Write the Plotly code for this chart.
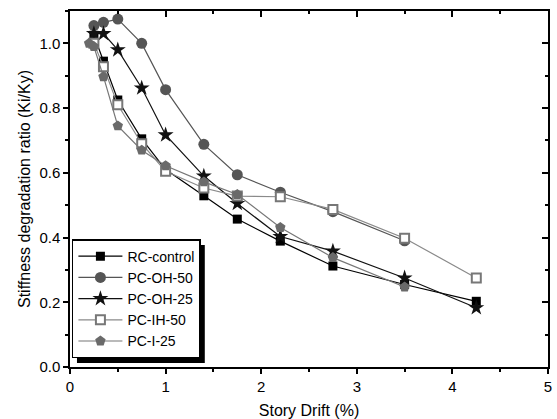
import plotly.graph_objects as go

# Data
drift_rc = [0.25, 0.35, 0.5, 0.75, 1.0, 1.4, 1.75, 2.2, 2.75, 3.5, 4.25]
rc_control = [1.025, 0.945, 0.825, 0.705, 0.61, 0.529, 0.457, 0.389, 0.312, 0.255, 0.203]

drift_oh50 = [0.25, 0.35, 0.5, 0.75, 1.0, 1.4, 1.75, 2.2, 2.75, 3.5]
pc_oh_50 = [1.055, 1.065, 1.075, 1.0, 0.857, 0.688, 0.594, 0.54, 0.48, 0.39]

drift_oh25 = [0.25, 0.35, 0.5, 0.75, 1.0, 1.4, 1.75, 2.2, 2.75, 3.5, 4.25]
pc_oh_25 = [1.03, 1.03, 0.98, 0.862, 0.717, 0.59, 0.505, 0.403, 0.358, 0.275, 0.183]

drift_ih50 = [0.25, 0.35, 0.5, 0.75, 1.0, 1.4, 1.75, 2.2, 2.75, 3.5, 4.25]
pc_ih_50 = [1.0, 0.928, 0.81, 0.69, 0.605, 0.553, 0.528, 0.526, 0.487, 0.398, 0.275]

drift_i25 = [0.2, 0.25, 0.35, 0.5, 0.75, 1.0, 1.4, 1.75, 2.2, 2.75, 3.5]
pc_i_25 = [1.0, 0.99, 0.897, 0.745, 0.67, 0.622, 0.572, 0.533, 0.431, 0.338, 0.247]

x_ticks = [0, 1, 2, 3, 4, 5]
y_ticks = [0.0, 0.2, 0.4, 0.6, 0.8, 1.0]
y_tick_labels = ["0.0", "0.2", "0.4", "0.6", "0.8", "1.0"]

FONT = "Arial, Liberation Sans, sans-serif"

fig = go.Figure()

series = [
    ("RC-control", drift_rc, rc_control, "square", "black", "black", "black", 9),
    ("PC-OH-50", drift_oh50, pc_oh_50, "circle", "#555555", "#555555", "#555555", 11),
    ("PC-OH-25", drift_oh25, pc_oh_25, "star", "#111111", "#111111", "#111111", 12),
    ("PC-IH-50", drift_ih50, pc_ih_50, "square", "#8a8a8a", "white", "#777777", 9),
    ("PC-I-25", drift_i25, pc_i_25, "pentagon", "#777777", "#6a6a6a", "#6a6a6a", 11),
]

for name, xs, ys, sym, lc, mfill, mline, msize in series:
    fig.add_trace(go.Scatter(
        x=xs, y=ys, name=name, mode="lines+markers",
        line=dict(color=lc, width=1.2),
        marker=dict(symbol=sym, size=msize, color=mfill,
                    line=dict(color=mline, width=2 if mfill == "white" else 0)),
    ))

# invisible trace to carry the mirrored top/right axes
fig.add_trace(go.Scatter(x=[None], y=[None], xaxis="x2", yaxis="y2",
                         showlegend=False, hoverinfo="skip"))

# legend shadow (offset right/down of the legend box)
fig.add_shape(type="rect", xref="paper", yref="paper",
              x0=0.0146, x1=0.282, y0=0.011, y1=0.343,
              fillcolor="black", line=dict(width=0), layer="above")

fig.update_layout(
    width=557, height=419,
    margin=dict(l=70, r=9, t=11, b=52, autoexpand=False),
    paper_bgcolor="white", plot_bgcolor="white",
    font=dict(family=FONT, color="black", size=15),
    showlegend=True,
    legend=dict(x=0.004, y=0.025, xanchor="left", yanchor="bottom",
                bgcolor="white", bordercolor="black", borderwidth=1.5,
                font=dict(size=14, family=FONT), tracegroupgap=0,
                itemwidth=44),
    xaxis=dict(range=[0, 5], tickvals=x_ticks, showgrid=False, zeroline=False,
               showline=True, linecolor="black", linewidth=1.5,
               ticks="outside", ticklen=5, tickwidth=1.5, tickcolor="black",
               minor=dict(dtick=0.5, ticks="outside", ticklen=3, tickwidth=1.5, tickcolor="black"),
               tickfont=dict(size=15),
               title=dict(text="Story Drift (%)", font=dict(size=16), standoff=12)),
    yaxis=dict(range=[0, 1.1], tickvals=y_ticks, ticktext=y_tick_labels,
               showgrid=False, zeroline=False,
               showline=True, linecolor="black", linewidth=1.5,
               ticks="outside", ticklen=5, tickwidth=1.5, tickcolor="black",
               minor=dict(dtick=0.1, ticks="outside", ticklen=3, tickwidth=1.5, tickcolor="black"),
               tickfont=dict(size=15),
               title=dict(text="Stiffness degradation ratio (Ki/Ky)", font=dict(size=16), standoff=5)),
    xaxis2=dict(range=[0, 5], overlaying="x", side="top", anchor="y2",
                tickvals=x_ticks, showticklabels=False, showgrid=False, zeroline=False,
                showline=True, linecolor="black", linewidth=1.5,
                ticks="inside", ticklen=6, tickwidth=1.5, tickcolor="black",
                minor=dict(dtick=0.5, ticks="inside", ticklen=3, tickwidth=1.5, tickcolor="black")),
    yaxis2=dict(range=[0, 1.1], overlaying="y", side="right", anchor="x2",
                tickvals=y_ticks, showticklabels=False, showgrid=False, zeroline=False,
                showline=True, linecolor="black", linewidth=1.5,
                ticks="inside", ticklen=6, tickwidth=1.5, tickcolor="black",
                minor=dict(dtick=0.1, ticks="inside", ticklen=3, tickwidth=1.5, tickcolor="black")),
)

fig.write_html("out.html")
